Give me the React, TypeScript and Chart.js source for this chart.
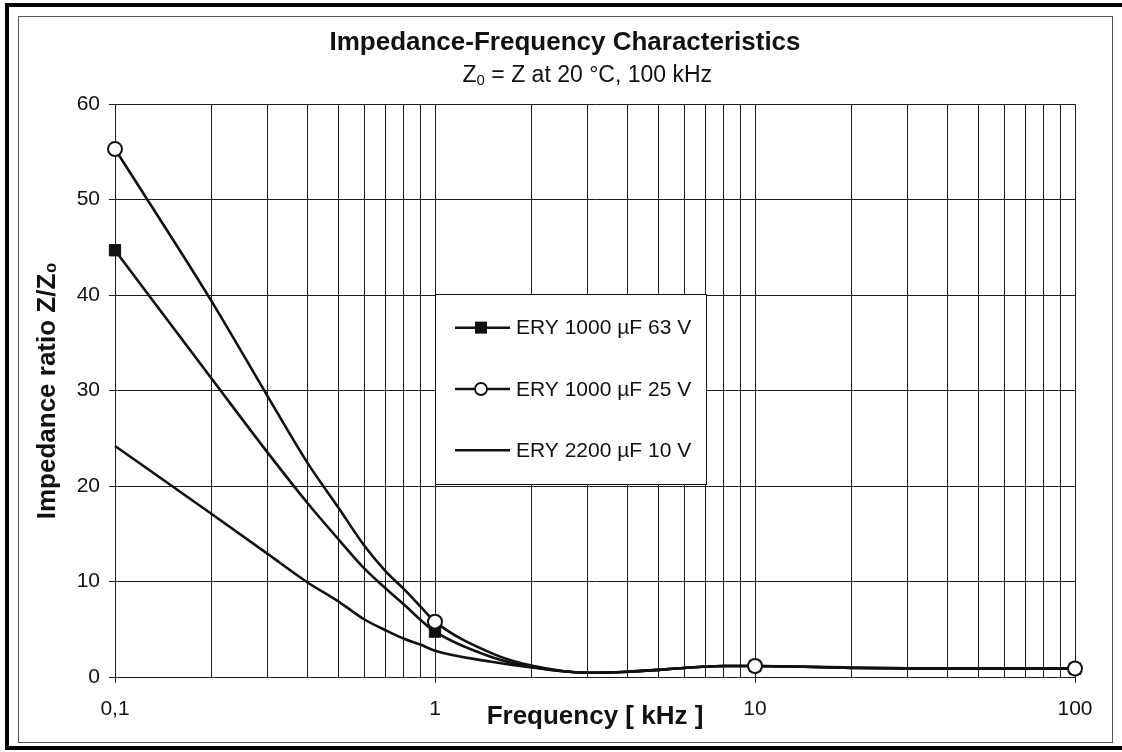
import React, { useEffect, useRef } from 'react';
import { Chart, registerables } from 'chart.js';

Chart.register(...registerables);

// ---- data ----
const frequencies = [0.1, 0.2, 0.3, 0.4, 0.5, 0.6, 0.7, 0.8, 0.9, 1, 1.5, 2, 3, 4, 5, 6, 7, 8, 10, 20, 30, 50, 100];
const ery1000_63V = [44.7, 31.3, 23.5, 18.2, 14.4, 11.4, 9.3, 7.6, 6.0, 4.75, 2.1, 1.07, 0.45, 0.55, 0.75, 0.95, 1.1, 1.15, 1.15, 1.0, 0.92, 0.9, 0.88];
const ery1000_25V = [55.3, 39.4, 29.4, 22.4, 17.7, 13.8, 11.1, 9.2, 7.4, 5.8, 2.5, 1.2, 0.45, 0.55, 0.75, 0.95, 1.1, 1.15, 1.15, 0.95, 0.9, 0.9, 0.88];
const ery2200_10V = [24.2, 17.1, 12.9, 9.9, 7.9, 6.05, 4.9, 4.0, 3.4, 2.75, 1.6, 1.0, 0.45, 0.55, 0.75, 0.95, 1.1, 1.15, 1.15, 0.95, 0.9, 0.9, 0.88];
const seriesLabels = ['ERY 1000 µF 63 V', 'ERY 1000 µF 25 V', 'ERY 2200 µF 10 V'];
const markerFrequencies = [0.1, 1, 10, 100];

const xGridValues = [0.1, 0.2, 0.3, 0.4, 0.5, 0.6, 0.7, 0.8, 0.9, 1, 2, 3, 4, 5, 6, 7, 8, 9, 10, 20, 30, 40, 50, 60, 70, 80, 90, 100];
const xMajorValues = [0.1, 1, 10, 100];
const xMajorLabels = ['0,1', '1', '10', '100'];
const yTickStep = 10;
const yMin = 0;
const yMax = 60;

const chartTitle = 'Impedance-Frequency Characteristics';
// subtitle: "Z₀ = Z at 20 °C, 100 kHz" (drawn with a real subscript)
const subtitleMain = 'Z';
const subtitleSub = '0';
const subtitleRest = ' = Z at 20 °C, 100 kHz';
const xAxisTitle = 'Frequency [ kHz ]';
const yAxisTitle = 'Impedance ratio Z/Z₀';

const FONT = "'Liberation Sans', Arial, Helvetica, sans-serif";
const INK = '#111111';
const GRID = '#1c1c1c';

const toPoints = (ys: number[]) => frequencies.map((f, i) => ({ x: f, y: ys[i] }));

const subtitlePlugin = {
  id: 'subtitleWithSubscript',
  afterDraw(chart: any) {
    const { ctx, chartArea: a } = chart;
    const w = a.right - a.left;
    const cx = a.left + w * 0.492;
    const cy = a.top - 29;
    ctx.save();
    ctx.fillStyle = INK;
    ctx.textBaseline = 'middle';
    ctx.textAlign = 'left';
    const big = `23px ${FONT}`;
    const small = `15px ${FONT}`;
    ctx.font = big;
    const w1 = ctx.measureText(subtitleMain).width;
    const w3 = ctx.measureText(subtitleRest).width;
    ctx.font = small;
    const w2 = ctx.measureText(subtitleSub).width;
    let x = cx - (w1 + w2 + w3) / 2;
    ctx.font = big;
    ctx.fillText(subtitleMain, x, cy);
    x += w1;
    ctx.font = small;
    ctx.fillText(subtitleSub, x, cy + 6);
    x += w2;
    ctx.font = big;
    ctx.fillText(subtitleRest, x, cy);
    ctx.restore();
  },
};

const boxLegend = {
  id: 'boxLegend',
  afterDatasetsDraw(chart: any) {
    const { ctx, chartArea: a } = chart;
    const w = a.right - a.left;
    const h = a.bottom - a.top;
    const left = Math.round(a.left + w * 0.333);
    const right = Math.round(a.left + w * 0.6155);
    const top = Math.round(a.top + h * 0.3305);
    const bottom = Math.round(a.top + h * 0.6635);
    const bh = bottom - top;
    ctx.save();
    ctx.fillStyle = '#ffffff';
    ctx.fillRect(left, top, right - left, bh);
    ctx.strokeStyle = INK;
    ctx.lineWidth = 1;
    ctx.strokeRect(left + 0.5, top + 0.5, right - left, bh);
    chart.data.datasets.forEach((ds: any, i: number) => {
      const y = top + bh * (0.177 + i * 0.323);
      ctx.strokeStyle = ds.borderColor;
      ctx.lineWidth = 2.5;
      ctx.beginPath();
      ctx.moveTo(left + 20, y);
      ctx.lineTo(left + 75, y);
      ctx.stroke();
      const mx = left + 46;
      if (ds.showMarkers) {
        if (ds.pointStyle === 'rect') {
          ctx.fillStyle = ds.pointBackgroundColor;
          ctx.fillRect(mx - 6, y - 6, 12, 12);
        } else {
          ctx.beginPath();
          ctx.arc(mx, y, 6, 0, Math.PI * 2);
          ctx.fillStyle = ds.pointBackgroundColor;
          ctx.fill();
          ctx.lineWidth = 1.8;
          ctx.strokeStyle = ds.pointBorderColor;
          ctx.stroke();
        }
      }
      ctx.fillStyle = INK;
      ctx.font = `21px ${FONT}`;
      ctx.textAlign = 'left';
      ctx.textBaseline = 'middle';
      ctx.fillText(ds.label, left + 81, y + 1);
    });
    ctx.restore();
  },
};

export default function App() {
  const canvasRef = useRef<HTMLCanvasElement | null>(null);

  useEffect(() => {
    if (!canvasRef.current) return;
    Chart.defaults.font.family = FONT;
    Chart.defaults.color = INK;
    const markerRadius = (r: number) => (c: any) =>
      c.raw && markerFrequencies.includes(c.raw.x) ? r : 0;

    const common = {
      borderColor: INK,
      borderWidth: 2.6,
      cubicInterpolationMode: 'monotone',
      clip: false,
    };

    const chart = new Chart(canvasRef.current, {
      type: 'line',
      data: {
        datasets: [
          {
            ...common,
            label: seriesLabels[0],
            data: toPoints(ery1000_63V),
            pointStyle: 'rect',
            pointBackgroundColor: INK,
            pointBorderColor: INK,
            pointBorderWidth: 1,
            pointRadius: markerRadius(8),
            order: 1,
            showMarkers: true,
          } as any,
          {
            ...common,
            label: seriesLabels[1],
            data: toPoints(ery1000_25V),
            pointStyle: 'circle',
            pointBackgroundColor: '#ffffff',
            pointBorderColor: INK,
            pointBorderWidth: 2,
            pointRadius: markerRadius(7),
            order: 0,
            showMarkers: true,
          } as any,
          {
            ...common,
            label: seriesLabels[2],
            data: toPoints(ery2200_10V),
            pointRadius: 0,
            order: 2,
            showMarkers: false,
          } as any,
        ],
      },
      options: {
        responsive: false,
        animation: false,
        events: [],
        layout: { padding: { left: 20, right: 12, top: 16, bottom: 14 } },
        plugins: {
          legend: { display: false },
          tooltip: { enabled: false },
          title: {
            display: true,
            text: chartTitle,
            color: INK,
            font: { size: 26, weight: 'bold', family: FONT },
            padding: { top: 11, bottom: 46 },
          },
          subtitle: { display: false },
        },
        scales: {
          x: {
            type: 'logarithmic',
            min: 0.1,
            max: 100,
            afterBuildTicks: (s: any) => {
              s.ticks = xGridValues.map((v) => ({ value: v, major: xMajorValues.includes(v) }));
            },
            afterFit: (s: any) => {
              s.height = 61;
            },
            ticks: {
              autoSkip: false,
              maxRotation: 0,
              minRotation: 0,
              padding: 14,
              color: INK,
              font: { size: 21, family: FONT },
              callback: (v: any) => {
                const i = xMajorValues.indexOf(Number(v));
                return i >= 0 ? xMajorLabels[i] : '';
              },
            },
            grid: {
              color: GRID,
              lineWidth: 1,
              tickLength: 6,
              tickColor: (c: any) =>
                c.tick && xMajorValues.includes(c.tick.value) ? GRID : 'rgba(0,0,0,0)',
            },
            border: { display: true, color: GRID, width: 1 },
            title: {
              display: true,
              text: xAxisTitle,
              color: INK,
              font: { size: 26, weight: 'bold', family: FONT },
              padding: { top: 0, bottom: 6 },
            },
          },
          y: {
            type: 'linear',
            min: yMin,
            max: yMax,
            afterFit: (s: any) => {
              s.width = 95;
            },
            ticks: {
              stepSize: yTickStep,
              padding: 9,
              color: INK,
              font: { size: 21, family: FONT },
            },
            grid: { color: GRID, lineWidth: 1, tickLength: 6, tickColor: GRID },
            border: { display: true, color: GRID, width: 1 },
            title: {
              display: true,
              text: yAxisTitle,
              color: INK,
              font: { size: 26, weight: 'bold', family: FONT },
              padding: { top: 12, bottom: 0 },
            },
          },
          yRightSpacer: {
            type: 'linear',
            position: 'right',
            display: true,
            min: yMin,
            max: yMax,
            afterFit: (s: any) => {
              s.width = 35;
            },
            ticks: { display: false },
            grid: { display: false, drawTicks: false },
            border: { display: false },
            title: { display: false },
          },
        },
      } as any,
      plugins: [boxLegend, subtitlePlugin],
    });
    return () => chart.destroy();
  }, []);

  return (
    <div style={{ position: 'fixed', left: 0, top: 0, width: 1122, height: 752, background: '#fff', overflow: 'hidden' }}>
      <div
        style={{
          position: 'absolute', left: 5, top: 3, width: 1130, height: 747,
          border: '4px solid #000', boxSizing: 'border-box',
        }}
      />
      <div
        style={{
          position: 'absolute', left: 18, top: 16, width: 1095, height: 727,
          border: '1px solid #555', boxSizing: 'border-box',
        }}
      />
      <canvas
        ref={canvasRef}
        width={1122}
        height={752}
        style={{ position: 'absolute', left: 0, top: 0, width: 1122, height: 752 }}
      />
    </div>
  );
}
